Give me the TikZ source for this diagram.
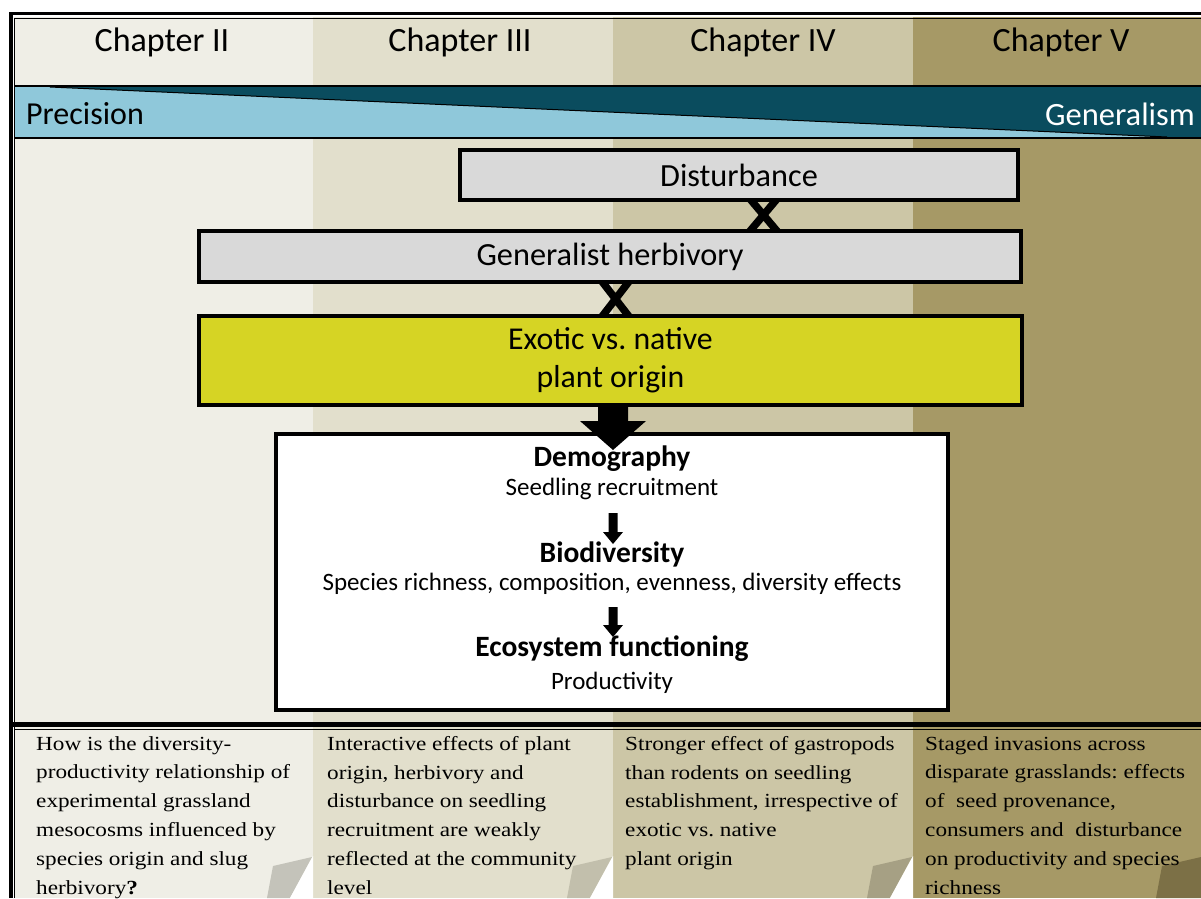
\documentclass[tikz,border=0pt]{standalone}
\usepackage{fontspec}
\setmainfont{Carlito}
\newfontfamily\gara[FakeStretch=1.16]{Liberation Serif}
\usetikzlibrary{calc}
\definecolor{cA}{HTML}{EFEEE6}
\definecolor{cB}{HTML}{E2DFCC}
\definecolor{cC}{HTML}{CCC6A6}
\definecolor{cD}{HTML}{A69966}
\definecolor{fA}{HTML}{C4C3BA}
\definecolor{fB}{HTML}{C2BFAC}
\definecolor{fC}{HTML}{A6A084}
\definecolor{fD}{HTML}{7C7046}
\definecolor{lblue}{HTML}{8FC8DA}
\definecolor{dteal}{HTML}{0A4C5E}
\definecolor{boxgrey}{HTML}{D9D9D9}
\definecolor{oliveY}{HTML}{D6D424}
\frenchspacing
\tikzset{
  chap/.style={font=\fontsize{34}{40}\selectfont, text=black, inner sep=0},
  gbox/.style={draw=black, line width=3.5, fill=boxgrey, inner sep=0, font=\fontsize{32.3}{38}\selectfont},
  ybox/.style={draw=black, line width=3.5, fill=oliveY, inner sep=0, align=center, font=\fontsize{31.8}{38}\selectfont},
  wbox/.style={draw=black, line width=3.5, fill=white, inner sep=0},
  headt/.style={font=\bfseries\fontsize{29.5}{34}\selectfont, inner sep=0},
  subt/.style={font=\fontsize{25}{30}\selectfont, inner sep=0},
  cross/.style={line width=7.5, black},
  desc/.style={font=\gara\fontsize{20}{28.8}\selectfont, align=left, anchor=north west, inner sep=0},
}
\begin{document}
\begin{tikzpicture}[x=1pt,y=-1pt]
\useasboundingbox (0,0) rectangle (1201,898);
\fill[white] (0,0) rectangle (1201,898);
% column backgrounds
\fill[cA] (14,17) rectangle (313,898);
\fill[cB] (313,17) rectangle (613,898);
\fill[cC] (613,17) rectangle (913,898);
\fill[cD] (913,17) rectangle (1201,898);
% precision / generalism band
\fill[lblue] (14,86) rectangle (1201,138);
\fill[dteal] (50,87) -- (1201,87) -- (1201,137) -- (1167,137) -- cycle;
\draw[line width=1] (50,87) -- (1167,137);
\draw[line width=1.3] (14,86) -- (1201,86);
\draw[line width=1.3] (14,138) -- (1201,138);
\node[font=\fontsize{32}{38}\selectfont, anchor=west, inner sep=0] (prec) at (26,114) {Precision};
\node[font=\fontsize{32.5}{38}\selectfont, anchor=east, inner sep=0, text=white] (gen) at (1195,114) {Generalism};
% chapter headers
\node[chap] (c2) at (162,42) {Chapter II};
\node[chap] (c3) at (460,42) {Chapter III};
\node[chap] (c4) at (763,42) {Chapter IV};
\node[chap] (c5) at (1061,42) {Chapter V};
% frame
\draw[line width=3.6] (10.8,898) -- (10.8,13.5) -- (1201,13.5);
\draw[line width=1] (14.3,898) -- (14.3,18) -- (1201,18);
\draw[line width=4.3] (10.8,724.5) -- (1201,724.5);
\draw[line width=1] (14.3,729.5) -- (1201,729.5);
% crosses (under boxes)
\draw[cross] (745,193) -- (782,237) (782,193) -- (745,237);
\draw[cross] (597,275) -- (634,323) (634,275) -- (597,323);
% boxes
\node[gbox, minimum width=558, minimum height=50] (dist) at (739,175) {Disturbance};
\node[gbox, minimum width=822, minimum height=51] (herb) at (610,256.5) {Generalist herbivory};
\node[ybox, minimum width=823, minimum height=89] (exo) at (610.5,360.5) {Exotic vs. native\\plant origin};
\node[wbox, minimum width=672, minimum height=276] (eff) at (612,572) {};
% big arrow
\coordinate (b1s) at (613,405);
\coordinate (b1e) at (613,450);
\fill ($(b1s)+(-15,0)$) -- ($(b1s)+(15,0)$) -- ($(b1e)+(15,-29)$) -- ($(b1e)+(33,-29)$) -- (b1e) -- ($(b1e)+(-33,-29)$) -- ($(b1e)+(-15,-29)$) -- cycle;
% inner texts
\node[headt] (demo) at (612,459) {Demography};
\node[subt] (seed) at (612,489) {Seedling recruitment};
\node[headt] (bio) at (612,554) {Biodiversity};
\node[subt] (spec) at (612,584) {Species richness, composition, evenness, diversity effects};
\node[headt] (eco) at (612,649) {Ecosystem functioning};
\node[subt] (prod) at (612,683) {Productivity};
\coordinate (a1s) at (613,513);
\coordinate (a1e) at (613,544);
\coordinate (a2s) at (613,607);
\coordinate (a2e) at (613,637);
\foreach \s/\e in {a1s/a1e, a2s/a2e}{
  \fill ($(\s)+(-4.5,0)$) -- ($(\s)+(4.5,0)$) -- ($(\e)+(4.5,-12)$) -- ($(\e)+(10,-12)$) -- (\e) -- ($(\e)+(-10,-12)$) -- ($(\e)+(-4.5,-12)$) -- cycle;
}
% folded corners
\foreach \r/\fc in {313/fA, 613/fB, 913/fC}{
  \fill[\fc] (\r-1,857) -- (\r-40,866) -- (\r-46,898) -- (\r-23,898) -- cycle;
  \fill[white] (\r,856) -- (\r,898) -- (\r-23,898) -- cycle;
}
\fill[fD] (1201,857) -- (1162,866) -- (1156,898) -- (1201,898) -- cycle;
% descriptions
\node[desc] (d2) at (36,736) {How is the diversity-\\productivity relationship of\\experimental grassland\\mesocosms influenced by\\species origin and slug\\herbivory\textbf{?}};
\node[desc] (d3) at (327,736) {Interactive effects of plant\\origin, herbivory and\\disturbance on seedling\\recruitment are weakly\\reflected at the community\\level};
\node[desc] (d4) at (625,736) {Stronger effect of gastropods\\than rodents on seedling\\establishment, irrespective of\\exotic vs. native\\plant origin};
\node[desc] (d5) at (925,736) {Staged invasions across\\disparate grasslands: effects\\of\ \ seed provenance,\\consumers and\ \ disturbance\\on productivity and species\\richness};
\end{tikzpicture}
\end{document}
